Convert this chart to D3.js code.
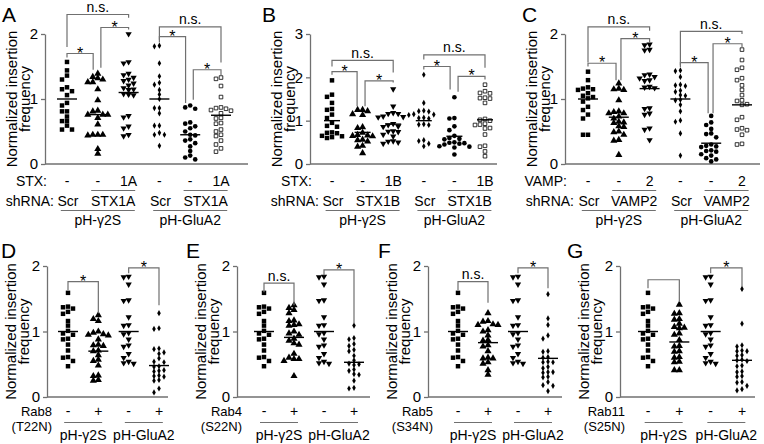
<!DOCTYPE html>
<html><head><meta charset="utf-8">
<script src="https://cdn.jsdelivr.net/npm/d3@7"></script>
<style>
body{margin:0;background:#fff;}
svg{display:block;}
</style></head><body>
<svg id="chart" width="764" height="444"></svg>
<script>
// ================= DATA =================
// Panel A (STX1A)
const aG2sScr = [1.57,1.44,1.36,1.30,1.18,1.15,1.12,1.06,0.94,0.90,0.81,0.81,0.73,0.66,0.66,0.59,0.53,0.53];
const aG2sKd  = [1.39,1.34,1.32,1.30,1.26,1.26,1.15,0.98,0.82,0.81,0.76,0.76,0.76,0.71,0.61,0.45,0.45,0.44,0.45,0.23,0.16];
const aG2sRes = [2.0,1.57,1.55,1.39,1.37,1.33,1.30,1.28,1.24,1.21,1.17,1.15,1.14,1.08,1.07,1.06,0.74,0.72,0.58,0.55,0.45,0.43];
const aGluScr = [1.82,1.81,1.55,1.35,1.25,1.22,1.14,1.07,1.0,0.86,0.86,0.78,0.59,0.59,0.48,0.45,0.45,0.28];
const aGluKd  = [0.90,0.87,0.85,0.64,0.62,0.58,0.55,0.50,0.45,0.44,0.38,0.36,0.32,0.27,0.20,0.13,0.10,0.07];
const aGluRes = [1.33,1.31,1.20,1.03,0.87,0.86,0.85,0.83,0.82,0.78,0.71,0.70,0.63,0.62,0.53,0.50,0.45,0.43,0.36,0.30,0.24,0.19];
const meansA = [1.0,0.76,1.10,1.0,0.45,0.75];
// Panel B (STX1B)
const bG2sScr = [1.93,1.60,1.55,1.41,1.27,1.25,1.14,1.06,0.95,0.88,0.86,0.73,0.72,0.71,0.65,0.64,0.62,0.60];
const bG2sKd  = [1.25,1.25,1.22,1.15,1.13,0.85,0.83,0.72,0.67,0.66,0.65,0.64,0.56,0.55,0.52,0.42,0.40,0.25];
const bG2sRes = [1.73,1.33,1.18,1.16,1.16,1.10,1.09,1.08,0.93,0.90,0.87,0.86,0.76,0.75,0.74,0.68,0.64,0.53,0.52,0.50,0.47];
const bGluScr = [2.06,1.41,1.23,1.22,1.21,1.15,1.14,1.13,1.07,1.06,1.05,0.92,0.91,0.90,0.55,0.53,0.47,0.41];
const bGluKd  = [1.54,1.06,1.05,0.87,0.78,0.65,0.60,0.58,0.57,0.50,0.49,0.48,0.47,0.45,0.41,0.40,0.38,0.22];
const bGluRes = [1.83,1.68,1.64,1.63,1.53,1.52,1.51,1.41,1.04,1.02,1.00,0.93,0.91,0.90,0.83,0.82,0.68,0.42,0.40,0.29,0.18];
const meansB = [1.0,0.73,0.92,1.0,0.64,1.02];
// Panel C (VAMP2)
const cG2sScr = [1.42,1.29,1.18,1.16,1.15,1.14,1.09,1.05,1.03,1.01,0.96,0.88,0.83,0.76,0.70,0.45,0.45];
const cG2sKd  = [1.24,1.16,1.15,1.14,0.98,0.81,0.80,0.78,0.78,0.73,0.70,0.65,0.64,0.63,0.58,0.57,0.50,0.49,0.45,0.37,0.36,0.14];
const cG2sRes = [1.84,1.83,1.76,1.75,1.38,1.37,1.34,1.32,1.29,1.28,1.19,1.18,1.17,0.86,0.85,0.78,0.76,0.55,0.53,0.37];
const cGluScr = [1.44,1.43,1.34,1.22,1.21,1.20,1.13,1.11,1.06,1.05,0.99,0.98,0.91,0.81,0.67,0.65,0.47,0.13];
const cGluKd  = [0.74,0.64,0.60,0.54,0.47,0.46,0.41,0.30,0.28,0.27,0.26,0.21,0.20,0.19,0.15,0.13,0.09,0.07,0.04];
const cGluRes = [1.76,1.60,1.48,1.45,1.32,1.29,1.21,1.14,1.06,0.98,0.97,0.92,0.91,0.72,0.68,0.55,0.53,0.52,0.45,0.31,0.30];
const meansC = [1.0,0.72,1.16,1.0,0.32,0.91];
// Panels D-G (Rab dominant negatives); controls shared
const ctrlG2s = [1.59,1.38,1.37,1.35,1.30,1.27,1.16,1.09,1.01,0.97,0.95,0.89,0.88,0.80,0.71,0.61,0.60,0.55,0.47];
const ctrlGlu = [1.84,1.83,1.72,1.48,1.47,1.22,1.10,1.09,0.98,0.96,0.88,0.79,0.77,0.66,0.60,0.54,0.52,0.51];
const rab8G2s = [1.25,1.19,1.16,1.00,0.98,0.96,0.95,0.94,0.88,0.80,0.79,0.78,0.71,0.70,0.64,0.57,0.55,0.48,0.33,0.32,0.26,0.25];
const rab8Glu = [1.28,1.05,1.04,0.74,0.73,0.68,0.66,0.59,0.54,0.53,0.47,0.46,0.41,0.40,0.39,0.33,0.32,0.31,0.26,0.25,0.13,0.07];
const rab4G2s = [1.40,1.36,1.33,1.28,1.17,1.16,1.11,1.10,1.09,1.00,0.97,0.95,0.89,0.86,0.82,0.80,0.66,0.60,0.58,0.58,0.55,0.32];
const rab4Glu = [1.09,0.90,0.88,0.81,0.78,0.72,0.70,0.63,0.56,0.51,0.50,0.49,0.42,0.40,0.35,0.34,0.25,0.14,0.13];
const rab5G2s = [1.28,1.16,1.15,1.11,1.10,1.10,1.02,1.00,0.94,0.87,0.86,0.79,0.77,0.70,0.60,0.59,0.59,0.53,0.51,0.41,0.34];
const rab5Glu = [1.57,1.20,1.10,0.94,0.89,0.70,0.69,0.61,0.60,0.54,0.53,0.53,0.46,0.44,0.38,0.38,0.37,0.31,0.30,0.23,0.18,0.17,0.09];
const rab11G2s = [1.41,1.28,1.27,1.19,1.18,1.12,1.07,1.06,1.05,0.97,0.95,0.87,0.78,0.77,0.70,0.69,0.61,0.60,0.54,0.53,0.41,0.41];
const rab11Glu = [1.65,1.12,0.79,0.77,0.71,0.70,0.70,0.64,0.63,0.57,0.56,0.55,0.48,0.47,0.39,0.38,0.32,0.31,0.23,0.22,0.17,0.12,0.10];
const meansD = [1.0,0.70,1.0,0.48];
const meansE = [1.0,0.91,1.0,0.53];
const meansF = [1.0,0.83,1.0,0.59];
const meansG = [1.0,0.84,1.0,0.56];

// Tick / category labels
const ticksTop2 = [0,1,2];
const ticksTop3 = [0,1,2,3];
const ticksBottom = [0,1,2];
const rowA1 = ["-","-","1A","-","-","1A"];
const rowB1 = ["-","-","1B","-","-","1B"];
const rowC1 = ["-","-","2","-","-","2"];
const shA = ["Scr","STX1A","Scr","STX1A"];
const shB = ["Scr","STX1B","Scr","STX1B"];
const shC = ["Scr","VAMP2","Scr","VAMP2"];
const constructs = ["pH-γ2S","pH-GluA2"];
const rabNames = [["Rab8","(T22N)"],["Rab4","(S22N)"],["Rab5","(S34N)"],["Rab11","(S25N)"]];
const rabSigns = ["-","+","-","+"];
const yTitle = ["Normalized insertion","frequency"];

// Significance brackets (column index a..b, heights in data units)
const bracketsA = [
 {a:0,b:2,top:2.30,la:1.80,lb:2.25,t:"n.s."},
 {a:0,b:0.85,top:1.70,la:1.64,lb:1.45,t:"*"},
 {a:1.1,b:2,top:2.10,la:1.48,lb:2.07,t:"*"},
 {a:3,b:5,top:2.11,la:1.87,lb:1.56,t:"n.s."},
 {a:3,b:3.85,top:1.96,la:1.91,lb:0.94,t:"*"},
 {a:4.1,b:5,top:1.45,la:0.99,lb:1.37,t:"*"}];
const bracketsB = [
 {a:0,b:2,top:2.39,la:2.25,lb:2.11,t:"n.s."},
 {a:0,b:0.82,top:2.13,la:2.06,lb:1.33,t:"*"},
 {a:1.08,b:2,top:1.92,la:1.33,lb:1.88,t:"*"},
 {a:3,b:5,top:2.52,la:2.41,lb:2.22,t:"n.s."},
 {a:3,b:3.86,top:2.25,la:2.18,lb:1.72,t:"*"},
 {a:4.12,b:5,top:2.02,la:1.67,lb:1.95,t:"*"}];
const bracketsC = [
 {a:0,b:2,top:2.11,la:1.56,lb:2.05,t:"n.s."},
 {a:0,b:0.91,top:1.55,la:1.50,lb:1.29,t:"*"},
 {a:1.07,b:2,top:1.93,la:1.29,lb:1.87,t:"*"},
 {a:3,b:5,top:2.04,la:1.49,lb:2.0,t:"n.s."},
 {a:3,b:3.9,top:1.56,la:1.52,lb:0.78,t:"*"},
 {a:4.06,b:5,top:1.85,la:0.78,lb:1.79,t:"*"}];
const bracketsD = [{a:0,b:1,top:1.76,la:1.63,lb:1.28,t:"*"},{a:2,b:3,top:1.97,la:1.89,lb:1.40,t:"*"}];
const bracketsE = [{a:0,b:1,top:1.74,la:1.60,lb:1.40,t:"n.s."},{a:2,b:3,top:1.94,la:1.86,lb:1.13,t:"*"}];
const bracketsF = [{a:0,b:1,top:1.76,la:1.63,lb:1.44,t:"n.s."},{a:2,b:3,top:1.97,la:1.89,lb:1.66,t:"*"}];
const bracketsG = [{a:0,b:1,top:1.79,la:1.66,lb:1.45,t:""},{a:2,b:3,top:1.97,la:1.89,lb:1.68,t:"*"}];

// ================= LAYOUT / STYLE =================
const FONT = "'Liberation Sans', Arial, Helvetica, sans-serif";
const LINE = "#707070";
const svg = d3.select("#chart");

const markerTop = ["square","tri","triDown","diamond","circle","squareOpen"];
const markerBottom = ["square","tri","triDown","diamond"];

const panels = [
 {L:"A", lx:2, ly:22, top:true, axisX:45, xEnd:248, c0:67, c1:221, y0:164, y1:34, yMax:2, ticks:ticksTop2,
  series:[aG2sScr,aG2sKd,aG2sRes,aGluScr,aGluKd,aGluRes], means:meansA, br:bracketsA, row1:"STX:", r1:rowA1, sh:shA, barW:20},
 {L:"B", lx:262, ly:22, top:true, axisX:310, xEnd:497, c0:332, c1:485, y0:164, y1:34, yMax:3, ticks:ticksTop3,
  series:[bG2sScr,bG2sKd,bG2sRes,bGluScr,bGluKd,bGluRes], means:meansB, br:bracketsB, row1:"STX:", r1:rowB1, sh:shB, barW:16},
 {L:"C", lx:522, ly:22, top:true, axisX:565, xEnd:760, c0:588, c1:742, y0:164, y1:34, yMax:2, ticks:ticksTop2,
  series:[cG2sScr,cG2sKd,cG2sRes,cGluScr,cGluKd,cGluRes], means:meansC, br:bracketsC, row1:"VAMP:", r1:rowC1, sh:shC, barW:20},
 {L:"D", lx:1, ly:258, top:false, axisX:47, xEnd:168, c0:68, c1:159, y0:397, y1:266, yMax:2, ticks:ticksBottom,
  series:[ctrlG2s,rab8G2s,ctrlGlu,rab8Glu], means:meansD, br:bracketsD, rab:rabNames[0], barW:20},
 {L:"E", lx:186, ly:258, top:false, axisX:237, xEnd:370, c0:264, c1:354, y0:397, y1:266, yMax:2, ticks:ticksBottom,
  series:[ctrlG2s,rab4G2s,ctrlGlu,rab4Glu], means:meansE, br:bracketsE, rab:rabNames[1], barW:20},
 {L:"F", lx:378, ly:258, top:false, axisX:428, xEnd:562, c0:458, c1:548, y0:397, y1:266, yMax:2, ticks:ticksBottom,
  series:[ctrlG2s,rab5G2s,ctrlGlu,rab5Glu], means:meansF, br:bracketsF, rab:rabNames[2], barW:20},
 {L:"G", lx:567, ly:258, top:false, axisX:620, xEnd:755, c0:648, c1:742, y0:397, y1:266, yMax:2, ticks:ticksBottom,
  series:[ctrlG2s,rab11G2s,ctrlGlu,rab11Glu], means:meansG, br:bracketsG, rab:rabNames[3], barW:20}
];

function drawMarker(g, type, x, y) {
  let sym, size, rot = 0, fill = "#000", stroke = "none", sw = 0;
  switch (type) {
    case "square": sym = d3.symbolSquare; size = 20; break;
    case "tri": sym = d3.symbolTriangle; size = 22; break;
    case "triDown": sym = d3.symbolTriangle; size = 17; rot = 180; break;
    case "diamond": sym = d3.symbolDiamond; size = 11; break;
    case "circle": sym = d3.symbolCircle; size = 17; break;
    case "squareOpen": sym = d3.symbolSquare; size = 13; fill = "#fff"; stroke = "#000"; sw = 0.8; break;
  }
  g.append("path").attr("d", d3.symbol().type(sym).size(size)())
    .attr("transform", `translate(${x},${y}) rotate(${rot})`)
    .attr("fill", fill).attr("stroke", stroke).attr("stroke-width", sw);
}

function swarm(vals, y, cx, step) {
  const placed = [];
  const order = vals.map((v, i) => ({v, i})).sort((a, b) => b.v - a.v);
  const cands = [0, -1, 1, -2, 2, -3, 3, -4, 4];
  for (const o of order) {
    const py = y(o.v);
    for (const k of cands) {
      const px = cx + k * step;
      if (!placed.some(p => Math.abs(p.x - px) < step - 0.5 && Math.abs(p.y - py) < 4.5)) {
        placed.push({x: px, y: py}); break;
      }
    }
  }
  return placed;
}

function txt(g, x, y, s, size, anchor) {
  return g.append("text").attr("x", x).attr("y", y).text(s)
    .attr("font-family", FONT).attr("font-size", size).attr("fill", "#000")
    .attr("text-anchor", anchor || "middle");
}
function hline(g, x1, x2, y) {
  g.append("line").attr("x1", x1).attr("x2", x2).attr("y1", y).attr("y2", y)
    .attr("stroke", LINE).attr("stroke-width", 1.2);
}

panels.forEach(p => {
  const g = svg.append("g");
  const n = p.series.length;
  const y = d3.scaleLinear().domain([0, p.yMax]).range([p.y0, p.y1]);
  const x = d3.scaleLinear().domain([0, n - 1]).range([p.c0, p.c1]);

  // panel letter
  txt(g, p.lx, p.ly, p.L, 21, "start");

  // y axis
  const ax = d3.axisLeft(y).tickValues(p.ticks).tickFormat(d3.format("d"))
    .tickSize(4).tickSizeOuter(0).tickPadding(3);
  const ag = g.append("g").attr("transform", `translate(${p.axisX},0)`).call(ax);
  ag.select(".domain").attr("stroke", LINE).attr("stroke-width", 1.3);
  ag.selectAll(".tick line").attr("stroke", LINE).attr("stroke-width", 1.3);
  ag.selectAll(".tick text").attr("font-family", FONT).attr("font-size", 15).attr("fill", "#000");
  // x baseline
  g.append("line").attr("x1", p.axisX).attr("x2", p.xEnd).attr("y1", y(0)).attr("y2", y(0))
    .attr("stroke", LINE).attr("stroke-width", 1.3);

  // y title
  const ym = (p.y0 + p.y1) / 2;
  const off = p.top ? [-28, -15] : [-31, -18];
  yTitle.forEach((t, i) => {
    g.append("text").attr("transform", `translate(${p.axisX + off[i]},${ym}) rotate(-90)`)
      .attr("text-anchor", "middle").attr("font-family", FONT).attr("font-size", 15).text(t);
  });

  // points
  p.series.forEach((vals, i) => {
    const types = p.top ? markerTop : markerBottom;
    swarm(vals, y, x(i), 5).forEach(pt => drawMarker(g, types[i], pt.x, pt.y));
    // mean bar
    g.append("line").attr("x1", x(i) - p.barW / 2).attr("x2", x(i) + p.barW / 2)
      .attr("y1", y(p.means[i])).attr("y2", y(p.means[i]))
      .attr("stroke", "#000").attr("stroke-width", 1.4);
  });

  // brackets
  p.br.forEach(b => {
    const xa = x(b.a), xb = x(b.b), yt = y(b.top);
    g.append("path").attr("d", `M${xa},${y(b.la)}V${yt}H${xb}V${y(b.lb)}`)
      .attr("fill", "none").attr("stroke", LINE).attr("stroke-width", 1.2);
    if (b.t === "*") txt(g, (xa + xb) / 2, yt + 5, "*", 16);
    else if (b.t) txt(g, (xa + xb) / 2, yt - 2.5, b.t, 14);
  });

  // category labels
  if (p.top) {
    txt(g, p.axisX + 2, 186, p.row1, 14, "end");
    p.r1.forEach((s, i) => txt(g, x(i), 186, s, 14));
    txt(g, p.axisX + 9, 206, "shRNA:", 14, "end");
    [[0, 0], [1, 1.5], [2, 3], [3, 4.5]].forEach(([k, pos]) => txt(g, x(pos) + (k % 2 === 0 ? 1 : 0), 206, p.sh[k], 14));
    [1.5, 4.5].forEach(c => hline(g, x(c) - 22, x(c) + 22, 190.5));
    [1, 4].forEach(c => hline(g, x(c) - 37, x(c) + 37, 210.5));
    txt(g, x(1), 225, constructs[0], 14);
    txt(g, x(4), 225, constructs[1], 14);
  } else {
    txt(g, p.axisX + 5, 416, p.rab[0], 13, "end");
    txt(g, p.axisX + 5, 431, p.rab[1], 13, "end");
    rabSigns.forEach((s, i) => txt(g, x(i), 416, s, 14));
    [0.5, 2.5].forEach(c => hline(g, x(c) - 19, x(c) + 19, 422.5));
    txt(g, x(0.5), 440, constructs[0], 14);
    txt(g, x(2.5), 440, constructs[1], 14);
  }
});
</script>
</body></html>
